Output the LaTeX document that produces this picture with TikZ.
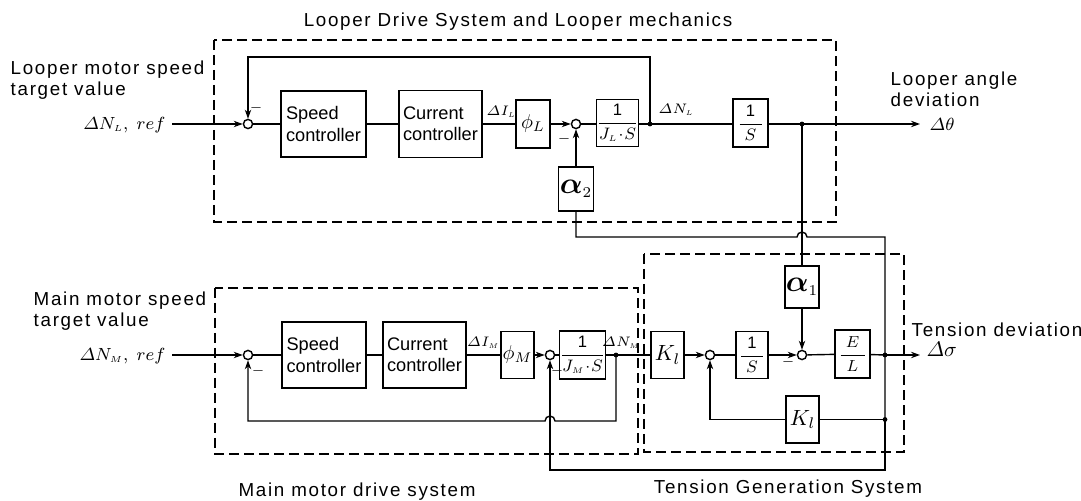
\RequirePackage{fix-cm}
\documentclass[tikz,border=0pt]{standalone}
\usepackage{amsmath}
\usepackage{bm}
\usepackage[no-math]{fontspec}
\setmainfont{Liberation Sans}
\setsansfont{Liberation Sans}
\newfontfamily\lblf[LetterSpace=9]{Liberation Sans}
\newfontfamily\boxf{Liberation Sans}
\usetikzlibrary{arrows.meta}
\begin{document}
\begin{tikzpicture}[x=0.5pt,y=-0.5pt,line width=0.7pt,
  >={Stealth[length=4.5pt,width=3.2pt]},
  blk/.style={draw,inner sep=0pt,align=left,font=\boxf\fontsize{9.1}{10.6}\selectfont},
  mbox/.style={draw,inner sep=0pt,font=\fontsize{8.3}{9}\selectfont},
  sumc/.style={draw,circle,minimum size=4.6pt,inner sep=0pt},
  dotc/.style={circle,fill,minimum size=2.4pt,inner sep=0pt},
  grp/.style={draw,line width=0.7pt,dash pattern=on 5pt off 2.5pt},
  lbl/.style={inner sep=0pt,align=left,font=\lblf\fontsize{9.4}{10.6}\selectfont},
  mlbl/.style={inner sep=0pt,font=\fontsize{8.8}{10}\selectfont},
  slbl/.style={inner sep=0pt,font=\fontsize{6.9}{8}\selectfont},
  mns/.style={inner sep=0pt,font=\fontsize{7}{8}\selectfont}]
\useasboundingbox (0,0) rectangle (1081,501);

% group frames
\draw[grp] (214,40) rectangle (836,222);
\draw[grp] (215,288) rectangle (638,454);
\draw[grp] (644,254) rectangle (904,452);

% group titles
\node[lbl] (t1) at (518,22) {Looper Drive System and Looper mechanics};
\node[lbl] (t2) at (357,492) {Main motor drive system};
\node[lbl] (t3) at (788,489) {Tension Generation System};
\node[lbl,anchor=west] (lin1) at (10,80) {Looper motor speed\\target value};
\node[lbl,anchor=west] (lin2) at (33,311) {Main motor speed\\target value};
\node[lbl,anchor=west] (lout1) at (890,89.5) {Looper angle\\deviation};
\node[lbl,anchor=west] (lout2) at (911,330) {Tension deviation};

% ---------- top row ----------
\node[mlbl,anchor=east] (inLt) at (166,125) {$\varDelta N_{\scriptscriptstyle L}{,}\;\, ref$};
\coordinate (inL) at (172,124);
\node[sumc] (c1) at (248,124) {};
\node[blk,minimum width=42.5pt,minimum height=33pt] (sc1) at (323.5,124) {Speed\\controller};
\node[blk,minimum width=41.5pt,minimum height=33.5pt] (cc1) at (440.5,124) {Current\\controller};
\node[slbl] (dIL) at (501,112) {$\varDelta I_{\scriptscriptstyle L}$};
\node[mbox,minimum width=17pt,minimum height=24pt,font=\fontsize{10}{10}\selectfont] (phiL) at (533,124) {$\phi_L$};
\node[sumc] (c2) at (576,124) {};
\node[mbox,minimum width=17.5pt,minimum height=22pt,font=\fontsize{15}{15}\selectfont] (a2) at (576,189) {$\bm{\alpha}_{\scriptscriptstyle 2}$};
\node[mbox,minimum width=20.5pt,minimum height=23.5pt] (JL) at (617.5,123) {$\dfrac{\textsf{1}}{J_{\scriptscriptstyle L}\!\cdot\! S}$};
\node[dotc] (d1) at (650,124) {};
\node[slbl] (dNL) at (676,110) {$\varDelta N_{\scriptscriptstyle L}$};
\node[mbox,minimum width=17.5pt,minimum height=24pt] (iS1) at (750.5,123) {$\dfrac{\makebox[11pt]{\textsf{1}}}{S}$};
\node[dotc] (d2) at (802,124) {};
\coordinate (outT) at (920,124);
\node[mlbl,anchor=west] (th) at (929,124) {$\varDelta\theta$};
\node[mns] (m1) at (256,108) {$-$};
\node[mns] (m2) at (564,139) {$-$};

\draw[->] (inL) -- (c1);
\draw (c1) -- (sc1);
\draw (sc1) -- (cc1);
\draw (cc1) -- (phiL);
\draw[->] (phiL) -- (c2);
\draw (c2) -- (c2 -| JL.west);
\draw (JL.east |- d1) -- (d1.center) -- (iS1.west |- d1);
\draw (iS1.east |- d2) -- (d2.center);
\draw[->] (d2.center) -- (outT);
\coordinate (fbT) at (450,57);
\draw[->] (d1.center) |- (fbT) -| (c1);
\draw[->] (a2) -- (c2);

% ---------- bottom row ----------
\node[mlbl,anchor=east] (inMt) at (166,356) {$\varDelta N_{\scriptscriptstyle M}{,}\;\, ref$};
\coordinate (inM) at (172,355);
\node[sumc] (c3) at (248,355) {};
\node[blk,minimum width=42pt,minimum height=33pt] (sc2) at (324,355) {Speed\\controller};
\node[blk,minimum width=41.5pt,minimum height=33pt] (cc2) at (424.5,355) {Current\\controller};
\node[slbl] (dIM) at (483,343) {$\varDelta I_{\scriptscriptstyle M}$};
\node[mbox,minimum width=16.5pt,minimum height=23.5pt,font=\fontsize{10}{10}\selectfont] (phiM) at (517.5,355) {$\phi_M$};
\node[sumc] (c4) at (550,355) {};
\node[mbox,minimum width=20.5pt,minimum height=24pt] (JM) at (582.5,355) {$\dfrac{\textsf{1}}{J_{\scriptscriptstyle M}\!\cdot\! S}$};
\node[dotc] (d3) at (616,355) {};
\node[slbl] (dNM) at (621,343) {$\varDelta N_{\scriptscriptstyle M}$};
\node[mbox,minimum width=16.5pt,minimum height=23.5pt,font=\fontsize{11}{11}\selectfont] (Kl1) at (667.5,355) {$K_l$};
\node[sumc] (c5) at (710,355) {};
\node[mbox,minimum width=16pt,minimum height=23.5pt] (iS2) at (752,355) {$\dfrac{\makebox[11pt]{\textsf{1}}}{S}$};
\node[sumc] (c6) at (802,355) {};
\node[mbox,minimum width=17pt,minimum height=21pt,font=\fontsize{15}{15}\selectfont] (a1) at (802,287) {$\bm{\alpha}_{\scriptscriptstyle 1}$};
\node[mbox,minimum width=17.5pt,minimum height=24pt,font=\fontsize{8}{9}\selectfont] (EL) at (852.5,354) {$\dfrac{\makebox[12pt]{$E$}}{L}$};
\node[dotc] (d4) at (885,355) {};
\coordinate (outB) at (920,355);
\node[mlbl,anchor=west,font=\fontsize{10.5}{10}\selectfont] (sg) at (926,349) {$\varDelta\sigma$};
\node[mbox,minimum width=16.5pt,minimum height=23.5pt,font=\fontsize{11}{11}\selectfont] (Kl2) at (802.5,419.5) {$K_l$};
\node[dotc] (d5) at (885,419.5) {};
\node[mns] (m3) at (258,371) {$-$};
\node[mns] (m4) at (557,371) {$-$};
\node[mns] (m6) at (788,362) {$-$};

\draw[->] (inM) -- (c3);
\draw (c3) -- (sc2);
\draw (sc2) -- (cc2);
\draw (cc2) -- (phiM);
\draw[->] (phiM) -- (c4);
\draw (c4) -- (JM);
\draw (JM) -- (d3.center) -- (Kl1);
\draw[->] (Kl1) -- (c5);
\draw (c5) -- (iS2);
\draw[->] (iS2) -- (c6);
\draw (c6) -- (EL);
\draw (EL) -- (d4.center);
\draw[->] (d4.center) -- (outB);
\draw (d2.center) -- (a1);
\draw[->] (a1) -- (c6);
\draw (d5.center) -- (Kl2);
\draw[->] (Kl2) -| (c5);

% main motor speed feedback with hop
\coordinate (h2) at (555,421);
\draw[->] (d3.center) |- (h2) arc[start angle=0,end angle=180,radius=2.5pt] -| (c3);

% alpha2 feedback line with hop, and tension feedback
\coordinate (h1) at (797,237);
\coordinate (tr) at (885,237);
\coordinate (bb) at (885,470);
\draw (a2.south) |- (h1) arc[start angle=180,end angle=0,radius=2.5pt] -- (tr) -- (d4.center) -- (d5.center);
\draw[->] (d5.center) -- (bb) -| (c4);
\end{tikzpicture}
\end{document}
